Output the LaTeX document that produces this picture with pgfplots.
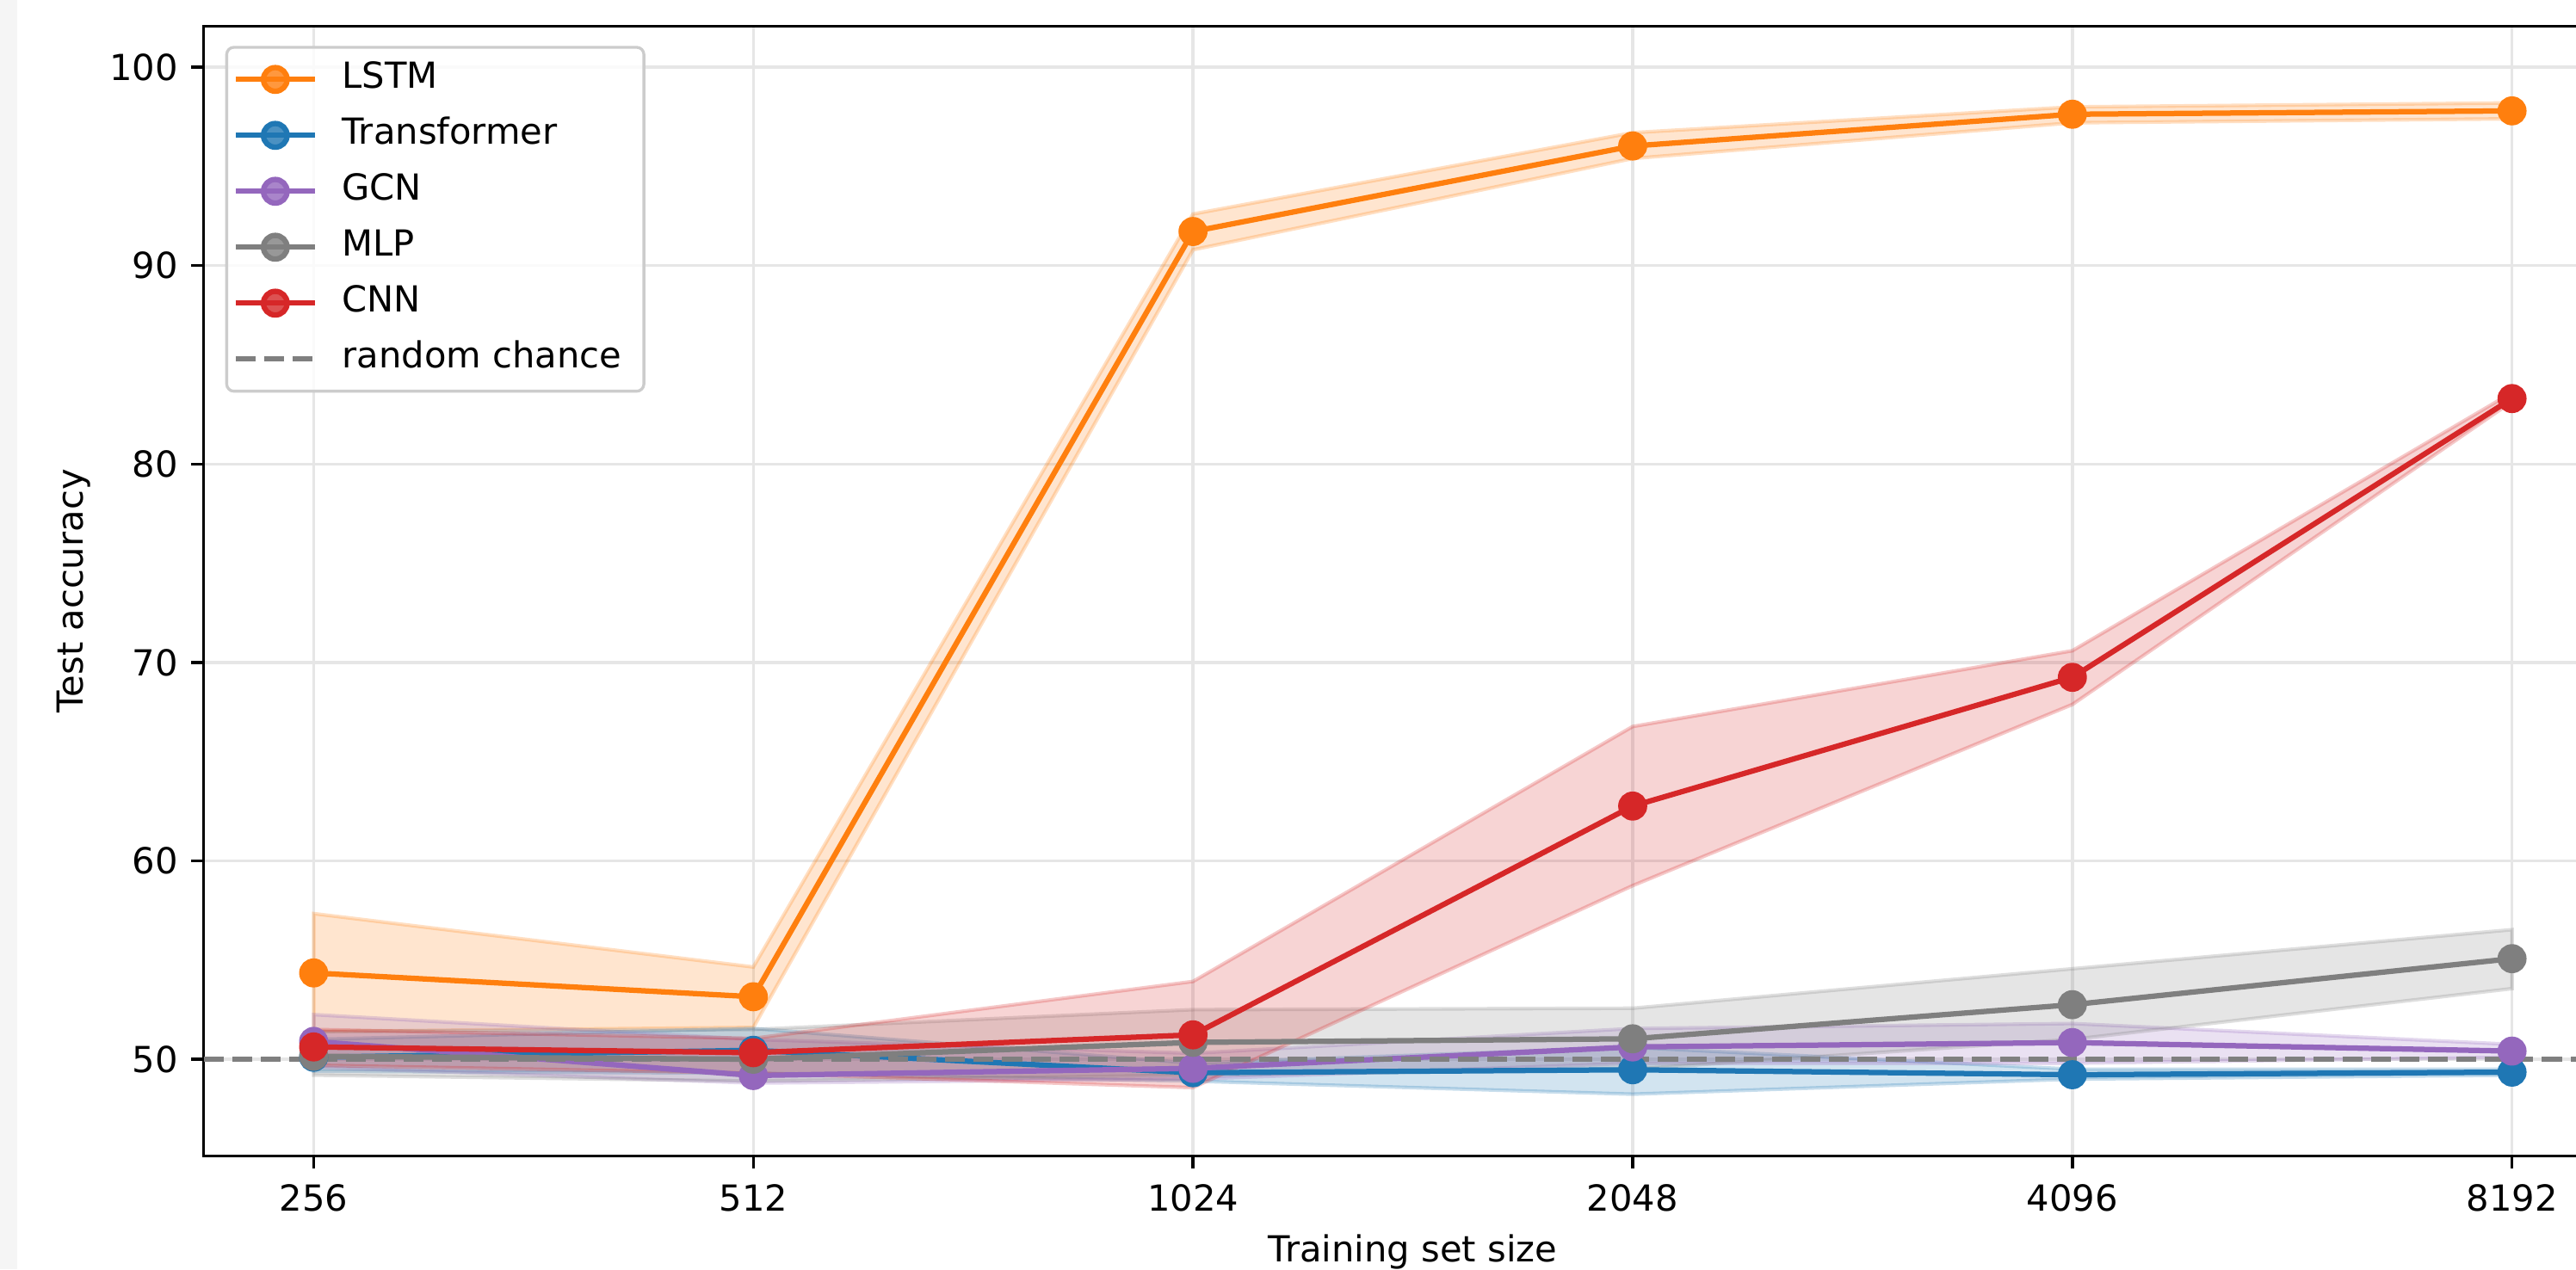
\documentclass[border=0pt]{standalone}
\usepackage{fontspec}
\setmainfont{DejaVu Sans}
\usepackage{pgfplots}
\pgfplotsset{compat=1.18}
\definecolor{cOrange}{HTML}{FF7F0E}
\definecolor{cBlue}{HTML}{1F77B4}
\definecolor{cPurple}{HTML}{9467BD}
\definecolor{cGray}{HTML}{7F7F7F}
\definecolor{cRed}{HTML}{D62728}
\definecolor{gridc}{HTML}{E6E6E6}
\pgfplotsset{
  band/.style={forget plot, draw=#1, draw opacity=0.25, fill=#1, fill opacity=0.2, line width=1pt},
  series/.style={#1, line width=1.5pt, mark=*, mark size=3.3pt, mark options={solid, fill=#1}},
  marklegend/.style={legend image code/.code={\draw[mark repeat=2,mark phase=2,##1] plot coordinates {(0pt,0pt) (11pt,0pt) (22pt,0pt)};}},
  dashlegend/.style={legend image code/.code={\draw[##1] (0pt,0pt) -- (22pt,0pt);}},
}
\begin{document}
\begin{tikzpicture}
\begin{axis}[
  name=ax,
  scale only axis, width=674.2pt, height=315.1pt,
  xmin=-0.25, xmax=5.25, ymin=45.12, ymax=102.07,
  xtick={0,1,2,3,4,5}, xticklabels={256,512,1024,2048,4096,8192},
  ytick={50,60,70,80,90,100},
  xtick pos=bottom, ytick pos=left, tick align=outside,
  major tick length=3.5pt,
  every tick/.style={black, line width=0.8pt},
  axis line style={black, line width=0.8pt},
  grid=major, major grid style={gridc, line width=0.8pt},
  /pgf/number format/assume math mode=true,
  ticklabel style={font=\fontsize{10}{12}\selectfont},
  xticklabel style={inner sep=0pt, yshift=-4.3pt, anchor=north},
  yticklabel style={inner sep=0pt, xshift=-3.5pt, anchor=east},
  xlabel={Training set size}, ylabel={Test accuracy},
  every axis x label/.style={at={(axis description cs:0.5,0)}, anchor=base, yshift=-29.4pt, inner sep=0pt, font=\fontsize{10}{12}\selectfont},
  every axis y label/.style={at={(axis description cs:0,0.5)}, anchor=center, rotate=90, yshift=36.2pt, font=\fontsize{10}{12}\selectfont},
  legend cell align=left,
  legend style={
    at={(0,1)}, anchor=north west, xshift=6pt, yshift=-5.5pt,
    draw=black!20, line width=0.8pt, rounded corners=2pt, fill=white, fill opacity=0.8, text opacity=1,
    inner xsep=1.8pt, inner ysep=4.1pt, row sep=5.9pt,
    nodes={inner sep=0pt, text height=7.3pt, text depth=2.4pt},
    /tikz/every odd column/.style={column sep=6.9pt},
    font=\fontsize{10}{12}\selectfont,
  },
  marklegend,
]
% bands
\addplot[band=cOrange] coordinates {(0,51.4) (1,51.6) (2,90.8) (3,95.4) (4,97.2) (5,97.4) (5,98.2) (4,98.0) (3,96.7) (2,92.6) (1,54.65) (0,57.34)} -- cycle;
\addplot[band=cBlue] coordinates {(0,49.4) (1,49.3) (2,48.9) (3,48.24) (4,49.0) (5,49.2) (5,49.5) (4,49.5) (3,50.6) (2,49.8) (1,51.55) (0,51.0)} -- cycle;
\addplot[band=cPurple] coordinates {(0,49.6) (1,48.8) (2,49.0) (3,49.8) (4,49.8) (5,50.1) (5,50.75) (4,51.8) (3,51.55) (2,50.3) (1,51.0) (0,52.25)} -- cycle;
\addplot[band=cGray] coordinates {(0,49.2) (1,48.9) (2,49.2) (3,49.5) (4,51.0) (5,53.56) (5,56.53) (4,54.56) (3,52.57) (2,52.5) (1,51.5) (0,51.4)} -- cycle;
\addplot[band=cRed] coordinates {(0,49.7) (1,49.3) (2,48.57) (3,58.75) (4,67.88) (5,83.15) (5,83.6) (4,70.59) (3,66.77) (2,53.92) (1,51.05) (0,51.5)} -- cycle;
% mean lines
\addplot[series=cOrange] coordinates {(0,54.35) (1,53.15) (2,91.72) (3,96.03) (4,97.63) (5,97.80)};
\addlegendentry{LSTM}
\addplot[series=cBlue] coordinates {(0,50.1) (1,50.45) (2,49.32) (3,49.47) (4,49.22) (5,49.35)};
\addlegendentry{Transformer}
\addplot[series=cPurple] coordinates {(0,50.9) (1,49.18) (2,49.54) (3,50.62) (4,50.84) (5,50.41)};
\addlegendentry{GCN}
\addplot[series=cGray] coordinates {(0,50.15) (1,50.0) (2,50.85) (3,51.03) (4,52.75) (5,55.07)};
\addlegendentry{MLP}
\addplot[series=cRed] coordinates {(0,50.62) (1,50.33) (2,51.23) (3,62.76) (4,69.25) (5,83.3)};
\addlegendentry{CNN}
\addplot[cGray, line width=1.5pt, dash pattern=on 5.55pt off 2.4pt, dashlegend] coordinates {(-0.25,50) (5.25,50)};
\addlegendentry{random chance\hspace*{4.4pt}}
\end{axis}
\pgfresetboundingbox
\path[use as bounding box] ([xshift=-56.8pt,yshift=-31.6pt]ax.south west) rectangle ([xshift=-12.8pt,yshift=7.3pt]ax.north east);
\fill[black!4] ([xshift=-56.8pt,yshift=-31.6pt]ax.south west) rectangle ([xshift=-52.1pt,yshift=7.3pt]ax.north west);
\end{tikzpicture}
\end{document}
